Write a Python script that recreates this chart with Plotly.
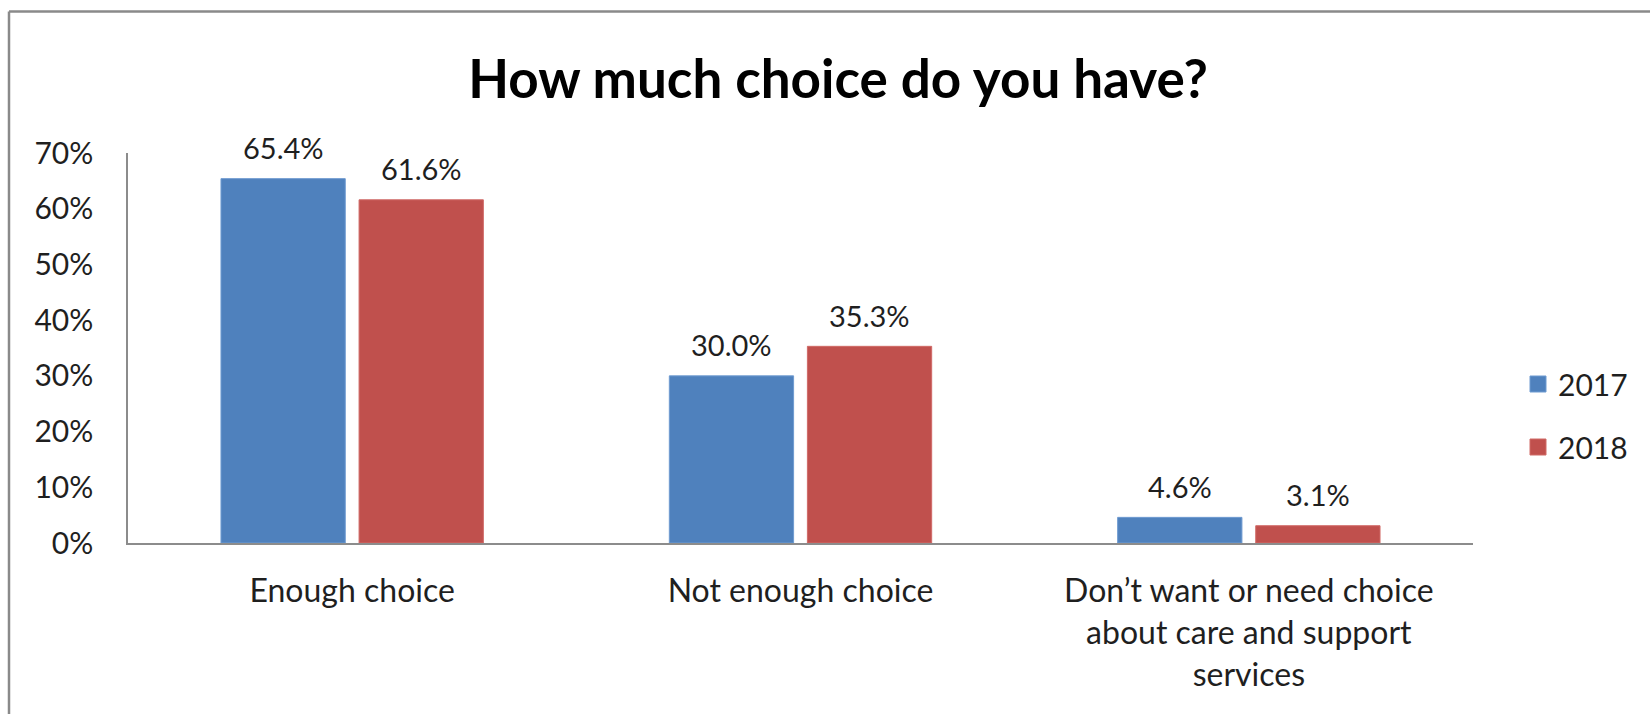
import plotly.graph_objects as go

# Survey responses: share of people by how much choice they have
categories = [
    "Enough choice",
    "Not enough choice",
    "Don’t want or need choice<br>about care and support<br>services",
]
years = ["2017", "2018"]
values_2017 = [65.4, 30.0, 4.6]
values_2018 = [61.6, 35.3, 3.1]
y_ticks = [0, 10, 20, 30, 40, 50, 60, 70]
y_tick_labels = [f"{v}%" for v in y_ticks]

colors = {"2017": "#4F81BD", "2018": "#C0504D"}
line_colors = {"2017": "#6F9BD1", "2018": "#D06A67"}
FONT = "Lato, 'Open Sans', sans-serif"
TEXT = "#1f1f1f"

W, H = 1650, 714
L, R, T, B = 128, 177, 153, 171
plot_w, plot_h = W - L - R, H - T - B
BARGAP, GROUPGAP = 0.384, 0.1
# pixel offset of each bar's centre from its category centre
slot = plot_w / len(categories) * (1 - BARGAP) / len(years)
offsets = {"2017": -slot / 2, "2018": slot / 2}

fig = go.Figure()
for year, vals in zip(years, [values_2017, values_2018]):
    fig.add_trace(go.Bar(
        name=year,
        x=categories,
        y=vals,
        marker=dict(color=colors[year], line=dict(color=line_colors[year], width=1)),
        showlegend=False,
    ))
    # value labels above each bar
    for cat, v in zip(categories, vals):
        fig.add_annotation(x=cat, y=v, xref="x", yref="y", text=f"{v:.1f}%",
                           showarrow=False, xshift=offsets[year], yshift=31,
                           yanchor="middle",
                           font=dict(family=FONT, size=29, color=TEXT))
    # legend entry with a larger square swatch
    fig.add_trace(go.Scatter(
        name=year, x=[None], y=[None], mode="markers",
        marker=dict(symbol="square", size=20, color=colors[year],
                    line=dict(color=line_colors[year], width=1)),
        legendgroup=year,
    ))

# outer chart frame (left and top edges)
px = lambda x: (x - L) / plot_w
py = lambda y: (H - B - y) / plot_h
frame = dict(color="#8a8a8a", width=2.5)
fig.add_shape(type="line", xref="paper", yref="paper",
              x0=px(9), x1=px(9), y0=py(11.5), y1=py(H + 20), line=frame)
fig.add_shape(type="line", xref="paper", yref="paper",
              x0=px(9), x1=px(W + 20), y0=py(11.5), y1=py(11.5), line=frame)

fig.update_layout(
    width=W, height=H,
    margin=dict(l=L, r=R, t=T, b=B, autoexpand=False),
    paper_bgcolor="white", plot_bgcolor="white",
    barmode="group", bargap=BARGAP, bargroupgap=GROUPGAP,
    title=dict(text="<b>How much choice do you have?</b>",
               font=dict(family=FONT, size=53, color="#000000"),
               x=838 / W, xanchor="center", y=1 - 79 / H, yanchor="middle"),
    legend=dict(x=px(1518), xanchor="left", y=py(415.5), yanchor="middle",
                font=dict(family=FONT, size=30, color=TEXT),
                tracegroupgap=21, itemsizing="trace",
                bgcolor="rgba(0,0,0,0)"),
    font=dict(family=FONT, size=30, color=TEXT),
)
fig.update_xaxes(showline=True, linecolor="#8c8c8c", linewidth=2,
                 ticks="", ticklabelstandoff=19,
                 tickfont=dict(family=FONT, size=32, color=TEXT))
fig.update_yaxes(range=[0, 70], tickvals=y_ticks, ticktext=y_tick_labels,
                 showline=True, linecolor="#8c8c8c", linewidth=1.5,
                 showgrid=False, zeroline=False, ticks="",
                 ticklabelstandoff=27,
                 tickfont=dict(family=FONT, size=30, color=TEXT))

fig.write_html("out.html")
